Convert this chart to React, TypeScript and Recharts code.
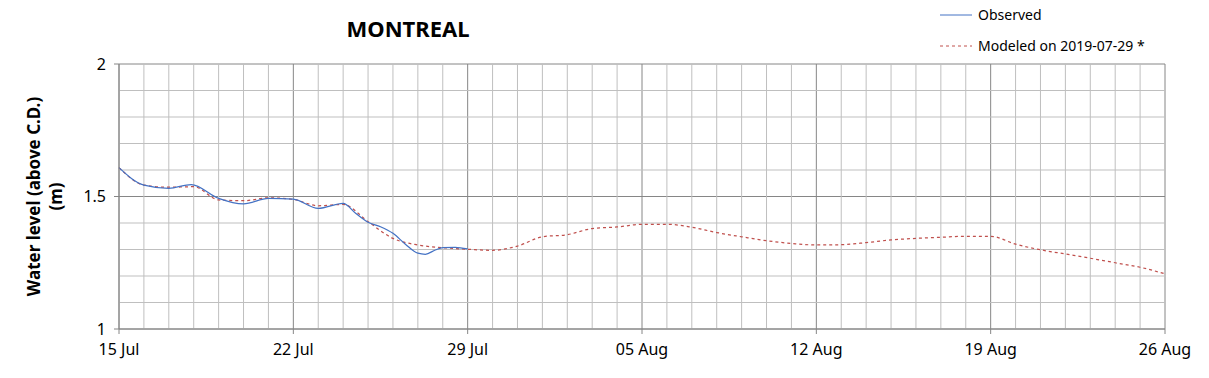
import React from "react";
import {
  LineChart,
  Line,
  XAxis,
  YAxis,
  CartesianGrid,
  ReferenceLine,
} from "recharts";

// Days since 15 Jul 2019
const obsDays = [0, 1, 2, 2.9, 4, 5, 6, 7, 8, 9, 9.5, 10, 10.5, 11, 11.5, 12, 12.3, 12.7, 13, 13.5, 14];
const obsValues = [1.609, 1.543, 1.531, 1.545, 1.493, 1.472, 1.493, 1.49, 1.455, 1.474, 1.437, 1.403, 1.386, 1.361, 1.32, 1.286, 1.282, 1.298, 1.307, 1.308, 1.302];

const modDays = [
  0, 1, 2, 3, 4, 5, 6, 7, 8, 9, 10, 11, 12, 13, 14, 15, 16, 17, 18, 19, 20, 21,
  22, 23, 24, 25, 26, 27, 28, 29, 30, 31, 32, 33, 34, 35, 36, 37, 38, 39, 40, 41, 42,
];
const modValues = [
  1.609, 1.543, 1.535, 1.537, 1.487, 1.484, 1.495, 1.489, 1.465, 1.47, 1.405,
  1.342, 1.317, 1.307, 1.301, 1.297, 1.313, 1.348, 1.356, 1.379, 1.385, 1.395,
  1.395, 1.384, 1.364, 1.348, 1.333, 1.323, 1.317, 1.318, 1.326, 1.336, 1.342,
  1.346, 1.35, 1.35, 1.32, 1.299, 1.283, 1.267, 1.25, 1.233, 1.208,
];

const xTicks = [0, 7, 14, 21, 28, 35, 42];
const xTickLabels = ["15 Jul", "22 Jul", "29 Jul", "05 Aug", "12 Aug", "19 Aug", "26 Aug"];
const yTicks = [1, 1.5, 2];
const yTickLabels = ["1", "1.5", "2"];
const minorDays = Array.from({ length: 43 }, (_, i) => i).filter((d) => d % 7 !== 0);
const minorLevels = [1.1, 1.2, 1.3, 1.4, 1.6, 1.7, 1.8, 1.9];

const title = "MONTREAL";
const seriesNames = ["Observed", "Modeled on 2019-07-29 *"];
const yLabelLines = ["Water level (above C.D.)", "(m)"];

const obsData = obsDays.map((d, i) => ({ d, v: obsValues[i] }));
const modData = modDays.map((d, i) => ({ d, v: modValues[i] }));

const FONT = "'Noto Sans', 'Open Sans', sans-serif";
const BLUE = "#4472C4";
const RED = "#C0504D";
const MINOR = "#BFBFBF";
const MAJOR = "#868686";

const YLabel = (props: any) => {
  const vb = props.viewBox || { x: 0, y: 0, width: 0, height: 0 };
  const cy = vb.y + vb.height / 2;
  return (
    <g>
      <text
        transform={`translate(40, ${cy}) rotate(-90)`}
        textAnchor="middle"
        fontFamily={FONT}
        fontWeight="bold"
        fontSize={17}
        fill="#000"
      >
        {yLabelLines[0]}
      </text>
      <text
        transform={`translate(62, ${cy}) rotate(-90)`}
        textAnchor="middle"
        fontFamily={FONT}
        fontWeight="bold"
        fontSize={17}
        fill="#000"
      >
        {yLabelLines[1]}
      </text>
    </g>
  );
};

export default function App() {
  return (
    <div style={{ position: "absolute", left: 0, top: 0, width: 1209, height: 378, background: "#fff" }}>
      <div
        style={{
          position: "absolute",
          left: 300,
          top: 13,
          width: 216,
          textAlign: "center",
          fontFamily: FONT,
          fontWeight: "bold",
          fontSize: 22,
          color: "#000",
          lineHeight: "30px",
        }}
      >
        {title}
      </div>
      <svg
        width={270}
        height={60}
        style={{ position: "absolute", left: 930, top: 0 }}
      >
        <line x1={10} x2={42} y1={15} y2={15} stroke={BLUE} strokeWidth={1} />
        <text x={48} y={20} fontFamily={FONT} fontSize={14} fill="#000">
          {seriesNames[0]}
        </text>
        <line x1={10} x2={42} y1={46} y2={46} stroke={RED} strokeWidth={1} strokeDasharray="3 3" />
        <text x={48} y={51} fontFamily={FONT} fontSize={14} fill="#000">
          {seriesNames[1]}
        </text>
      </svg>
      <LineChart
        width={1209}
        height={378}
        margin={{ top: 64, right: 44, bottom: 0, left: 0 }}
      >
        <CartesianGrid stroke={MAJOR} strokeWidth={1} horizontal={true} vertical={true} />
        {minorDays.map((d) => (
          <ReferenceLine key={"vx" + d} x={d} stroke={MINOR} strokeWidth={1} />
        ))}
        {minorLevels.map((v) => (
          <ReferenceLine key={"hy" + v} y={v} stroke={MINOR} strokeWidth={1} />
        ))}
        <XAxis
          dataKey="d"
          type="number"
          domain={[0, 42]}
          ticks={xTicks}
          tickFormatter={(v: number) => xTickLabels[xTicks.indexOf(v)]}
          allowDuplicatedCategory={false}
          height={49}
          stroke={MAJOR}
          tickSize={5}
          tick={{ fill: "#000", fontFamily: FONT, fontSize: 16 }}
          tickMargin={10}
          interval={0}
        />
        <YAxis
          type="number"
          domain={[1, 2]}
          ticks={yTicks}
          tickFormatter={(v: number) => yTickLabels[yTicks.indexOf(v)]}
          width={119}
          stroke={MAJOR}
          tickSize={5}
          tick={{ fill: "#000", fontFamily: FONT, fontSize: 16 }}
          tickMargin={8}
          interval={0}
          label={<YLabel />}
        />
        <Line
          data={modData}
          dataKey="v"
          type="monotone"
          stroke={RED}
          strokeWidth={1.25}
          strokeDasharray="3 3"
          dot={false}
          activeDot={false}
          isAnimationActive={false}
          name={seriesNames[1]}
        />
        <Line
          data={obsData}
          dataKey="v"
          type="monotone"
          stroke={BLUE}
          strokeWidth={1.25}
          dot={false}
          activeDot={false}
          isAnimationActive={false}
          name={seriesNames[0]}
        />
      </LineChart>
    </div>
  );
}
